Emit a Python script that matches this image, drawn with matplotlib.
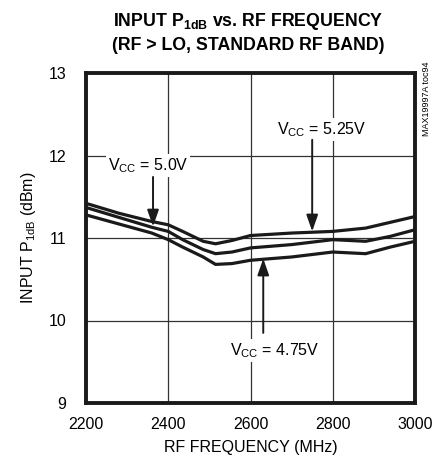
import matplotlib.pyplot as plt
import numpy as np

plt.rcParams['font.family'] = ['Liberation Sans', 'DejaVu Sans']
plt.rcParams['mathtext.fontset'] = 'custom'
plt.rcParams['mathtext.rm'] = 'Liberation Sans'
plt.rcParams['mathtext.bf'] = 'Liberation Sans:bold'

freq = [2200, 2280, 2360, 2400, 2435, 2485, 2515, 2555, 2600, 2700, 2800, 2880, 2940, 3000]
p_525 = [11.42, 11.30, 11.20, 11.16, 11.08, 10.96, 10.93, 10.97, 11.03, 11.06, 11.08, 11.12, 11.19, 11.26]
p_500 = [11.37, 11.25, 11.13, 11.08, 10.98, 10.86, 10.81, 10.83, 10.88, 10.92, 10.98, 10.96, 11.02, 11.10]
p_475 = [11.28, 11.17, 11.06, 10.98, 10.89, 10.77, 10.68, 10.69, 10.73, 10.77, 10.83, 10.81, 10.89, 10.96]

xticks = [2200, 2400, 2600, 2800, 3000]
yticks = [9, 10, 11, 12, 13]

fig = plt.figure(figsize=(4.36, 4.59), dpi=100)
ax = fig.add_axes([86/436, 1-403/459, 329/436, 330/459])

for p in (p_525, p_500, p_475):
    ax.plot(freq, p, color='#1a1a1a', lw=2.3, solid_capstyle='butt', solid_joinstyle='round', zorder=3)

ax.set_xlim(2200, 3000)
ax.set_ylim(9, 13)
ax.set_xticks(xticks)
ax.set_yticks(yticks)
ax.grid(True, color='#333333', lw=0.9)
ax.tick_params(length=0, labelsize=11.5)
ax.tick_params(axis='x', pad=10)
ax.tick_params(axis='y', pad=14)
for s in ax.spines.values():
    s.set_linewidth(2.8)
    s.set_color('#1a1a1a')

ax.set_xlabel('RF FREQUENCY (MHz)', fontsize=11.5, labelpad=6)
ax.set_ylabel('INPUT P$_{\\mathrm{1dB}}$ (dBm)', fontsize=11.5, labelpad=8)

fig.text(248/436, 1-22/459, 'INPUT P$_{\\mathbf{1dB}}$ vs. RF FREQUENCY', ha='center', va='center',
         fontsize=12.8, fontweight='bold')
fig.text(248/436, 1-46/459, '(RF > LO, STANDARD RF BAND)', ha='center', va='center',
         fontsize=12.8, fontweight='bold')
fig.text(426/436, 1-62/459, 'MAX19997A toc94', rotation=90, ha='center', va='top', fontsize=6.5)

arrow = dict(arrowstyle='-|>,head_length=1.0,head_width=0.35', color='#1a1a1a', lw=1.4,
             shrinkA=0, shrinkB=0)
bbox = dict(facecolor='white', edgecolor='none', pad=1.5)

# labels
ax.text(2351, 11.88, 'V$_{\\mathrm{CC}}$ = 5.0V', ha='center', va='center', fontsize=11.5, bbox=bbox, zorder=4)
ax.text(2772, 12.31, 'V$_{\\mathrm{CC}}$ = 5.25V', ha='center', va='center', fontsize=11.5, bbox=bbox, zorder=4)
ax.text(2660, 9.64, 'V$_{\\mathrm{CC}}$ = 4.75V', ha='center', va='center', fontsize=11.5, bbox=bbox, zorder=4)

# arrows
ax.annotate('', xy=(2363, 11.14), xytext=(2363, 11.74), arrowprops=arrow, zorder=4)
ax.annotate('', xy=(2750, 11.08), xytext=(2750, 12.19), arrowprops=arrow, zorder=4)
ax.annotate('', xy=(2631, 10.75), xytext=(2631, 9.85), arrowprops=arrow, zorder=4)

fig.savefig('out.png', dpi=100)
